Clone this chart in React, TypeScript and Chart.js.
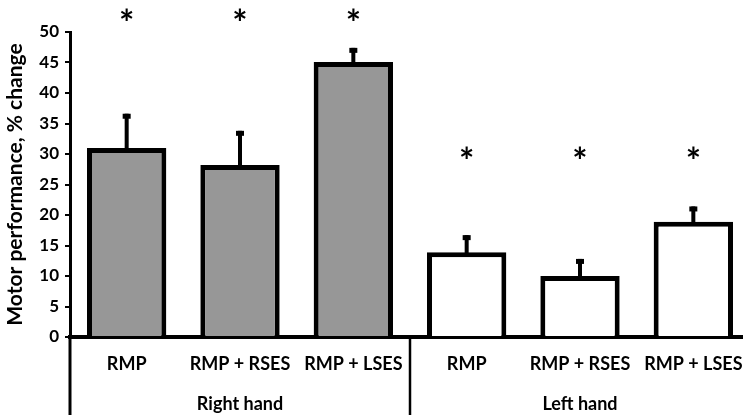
import React, { useEffect, useRef } from "react";
import { Chart, registerables } from "chart.js";

Chart.register(...registerables);

const categories = ["RMP", "RMP + RSES", "RMP + LSES", "RMP", "RMP + RSES", "RMP + LSES"];
const groups = ["Right hand", "Left hand"];
const groupSize = 3;
const means = [31.0, 28.2, 45.1, 13.9, 10.0, 18.9];
const errors = [5.6, 5.6, 2.3, 2.8, 2.8, 2.5];
const barColors = ["#979797", "#979797", "#979797", "#ffffff", "#ffffff", "#ffffff"];
const starLevels = [52.8, 52.8, 52.8, 30.3, 30.3, 30.3];
const yMin = 0;
const yMax = 50;
const yStep = 5;
const yTitle = "Motor performance, % change";

const FONT = "Lato, 'Open Sans', sans-serif";

const overlay = {
  id: "overlay",
  afterDatasetsDraw(chart: any) {
    const { ctx } = chart;
    const meta = chart.getDatasetMeta(0);
    const ys = chart.scales.y;
    ctx.save();
    ctx.fillStyle = "#000";
    meta.data.forEach((el: any, i: number) => {
      const top = ys.getPixelForValue(means[i] + errors[i]);
      const x = el.x;
      ctx.fillRect(x - 2, top, 4, el.y - top + 2);
      ctx.fillRect(x - 4, top, 8, 5);
    });
    ctx.restore();
  },
  afterDraw(chart: any) {
    const { ctx, chartArea } = chart;
    const xs = chart.scales.x;
    const ys = chart.scales.y;
    const H = chart.height;
    ctx.save();
    ctx.strokeStyle = "#000";
    ctx.lineWidth = 3;
    ctx.beginPath();
    ctx.moveTo(chartArea.left, chartArea.bottom);
    ctx.lineTo(chartArea.left, H);
    ctx.stroke();
    ctx.lineWidth = 2.5;
    for (let g = 1; g < groups.length; g++) {
      const a = xs.getPixelForValue(g * groupSize - 1);
      const b = xs.getPixelForValue(g * groupSize);
      const x = (a + b) / 2;
      ctx.beginPath();
      ctx.moveTo(x, chartArea.bottom);
      ctx.lineTo(x, H);
      ctx.stroke();
    }
    ctx.fillStyle = "#000";
    ctx.font = `bold 18px ${FONT}`;
    ctx.textAlign = "center";
    ctx.textBaseline = "middle";
    groups.forEach((g, gi) => {
      const a = xs.getPixelForValue(gi * groupSize);
      const b = xs.getPixelForValue(gi * groupSize + groupSize - 1);
      ctx.fillText(g, (a + b) / 2, chartArea.bottom + 67);
    });
    ctx.font = `bold 36px ${FONT}`;
    ctx.textBaseline = "alphabetic";
    const m = ctx.measureText("*");
    const off = (m.actualBoundingBoxAscent - m.actualBoundingBoxDescent) / 2;
    starLevels.forEach((v, i) => {
      const x = xs.getPixelForValue(i);
      const y = ys.getPixelForValue(v);
      ctx.fillText("*", x, y + off);
    });
    ctx.restore();
  },
};

export default function App() {
  const ref = useRef<HTMLCanvasElement>(null);
  useEffect(() => {
    document.body.style.margin = "0";
    const canvas = ref.current!;
    const chart = new Chart(canvas, {
      type: "bar",
      data: {
        labels: categories,
        datasets: [
          {
            data: means,
            backgroundColor: barColors,
            borderColor: "#000",
            borderWidth: 5,
            borderSkipped: "start",
            barPercentage: 0.7,
            categoryPercentage: 1,
          },
        ],
      },
      options: {
        responsive: false,
        animation: false,
        devicePixelRatio: 1,
        layout: { padding: { top: 32, right: 10, left: 0, bottom: 0 } },
        plugins: { legend: { display: false }, tooltip: { enabled: false } },
        scales: {
          x: {
            grid: { display: false, drawTicks: false },
            border: { display: true, color: "#000", width: 4 },
            ticks: {
              color: "#000",
              font: { family: FONT, weight: "bold", size: 18 },
              padding: 16,
              maxRotation: 0,
              autoSkip: false,
            },
            afterFit: (s: any) => {
              s.height = 78;
            },
          },
          y: {
            min: yMin,
            max: yMax,
            ticks: {
              stepSize: yStep,
              color: "#000",
              font: { family: FONT, weight: "bold", size: 17 },
              padding: 6,
            },
            grid: { drawOnChartArea: false, drawTicks: true, tickLength: 5, color: "#000", lineWidth: 2 },
            border: { display: true, color: "#000", width: 3 },
            title: {
              display: true,
              text: yTitle,
              color: "#000",
              font: { family: FONT, weight: "bold", size: 21 },
              padding: { top: 3, bottom: 0 },
            },
            afterFit: (s: any) => {
              s.width = 70;
            },
          },
        },
      },
      plugins: [overlay],
    } as any);
    return () => chart.destroy();
  }, []);
  return (
    <div style={{ width: 743, height: 415, overflow: "hidden", position: "relative" }}>
      <canvas ref={ref} width={760} height={415} style={{ display: "block" }} />
    </div>
  );
}
